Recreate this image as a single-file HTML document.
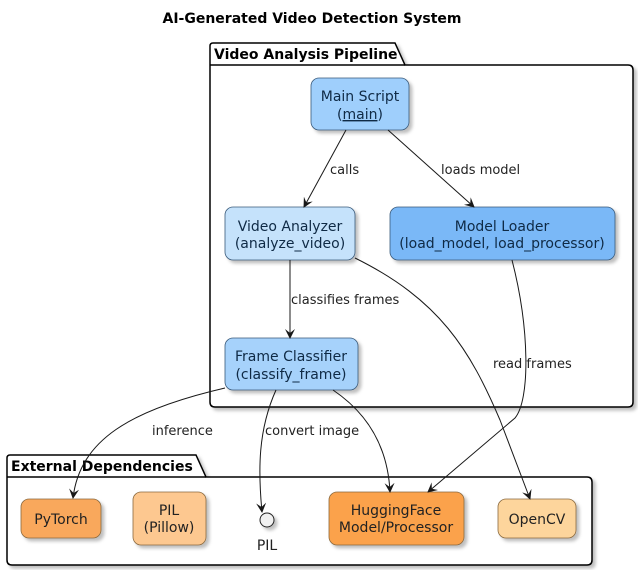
<!DOCTYPE html>
<html><head><meta charset="utf-8"><style>
html,body{margin:0;padding:0;background:#fff;}
svg{display:block;font-family:"DejaVu Sans","Liberation Sans",sans-serif;}
</style></head><body>
<svg width="638" height="570" viewBox="0 0 638 570" xmlns="http://www.w3.org/2000/svg">
<defs>
<marker id="a" viewBox="0 0 10 10" refX="9" refY="5" markerWidth="10" markerHeight="10" orient="auto" markerUnits="userSpaceOnUse">
<path d="M0,0 L10,5 L0,10 L4,5 Z" fill="#181818"/></marker>
<filter id="s" x="-10%" y="-10%" width="130%" height="140%"><feDropShadow dx="3" dy="3" stdDeviation="1.5" flood-color="#000" flood-opacity="0.25"/></filter>
</defs>
<text x="312" y="23" text-anchor="middle" font-size="14" font-weight="bold" fill="#000">AI-Generated Video Detection System</text>

<g filter="url(#s)">
<path d="M213,43 L395,43 L405,65 L628,65 Q633,65 633,70 L633,402 Q633,407 628,407 L215,407 Q210,407 210,402 L210,46 Q210,43 213,43 Z" fill="#fff" stroke="#000" stroke-width="1.5"/>
</g>
<line x1="210" y1="65" x2="405" y2="65" stroke="#000" stroke-width="1.5"/>
<text x="214" y="59" font-size="14" font-weight="bold">Video Analysis Pipeline</text>

<g filter="url(#s)">
<path d="M10,455 L196,455 L206,477 L587,477 Q592,477 592,482 L592,560 Q592,565 587,565 L12,565 Q7,565 7,560 L7,458 Q7,455 10,455 Z" fill="#fff" stroke="#000" stroke-width="1.5"/>
</g>
<line x1="7" y1="477" x2="206" y2="477" stroke="#000" stroke-width="1.5"/>
<text x="11" y="471" font-size="14" font-weight="bold">External Dependencies</text>

<g filter="url(#s)" stroke="#3a5a7a" stroke-width="0.8">
<rect x="311" y="78" width="98" height="52" rx="8" fill="#9fcffc"/>
<rect x="225" y="207" width="130" height="53" rx="8" fill="#c5e2fb"/>
<rect x="390" y="207" width="225" height="53" rx="8" fill="#7ab8f7"/>
<rect x="225" y="338" width="133" height="52" rx="8" fill="#a6d2fb"/>
</g>
<g filter="url(#s)" stroke="#8a6a40" stroke-width="0.8">
<rect x="21" y="499" width="80" height="39" rx="8" fill="#f9a85c"/>
<rect x="133" y="492" width="73" height="53" rx="8" fill="#fdc890"/>
<rect x="329" y="492" width="135" height="53" rx="8" fill="#fba24c"/>
<rect x="498" y="499" width="78" height="39" rx="8" fill="#fdd59c"/>
<circle cx="267" cy="520" r="7" fill="#f1f1f1" stroke="#222" stroke-width="1"/>
</g>

<g font-size="14" fill="#0f2a45" text-anchor="middle">
<text x="360" y="101">Main Script</text>
<text x="360" y="119">(<tspan text-decoration="underline">main</tspan>)</text>
<text x="290" y="231">Video Analyzer</text>
<text x="290" y="248">(analyze_video)</text>
<text x="502" y="231">Model Loader</text>
<text x="502" y="248">(load_model, load_processor)</text>
<text x="291" y="361">Frame Classifier</text>
<text x="291" y="379">(classify_frame)</text>
</g>
<g font-size="14" fill="#222" text-anchor="middle">
<text x="61" y="524">PyTorch</text>
<text x="169" y="515">PIL</text>
<text x="169" y="532">(Pillow)</text>
<text x="396" y="515">HuggingFace</text>
<text x="396" y="532">Model/Processor</text>
<text x="537" y="524">OpenCV</text>
<text x="267" y="550">PIL</text>
</g>

<g fill="none" stroke="#181818" stroke-width="1" marker-end="url(#a)">
<path d="M346,130 L304,207"/>
<path d="M388,130 L474,207"/>
<path d="M290,260 L290,338"/>
<path d="M355,258 C440,300 470,350 500,420 L530,499"/>
<path d="M512,260 C530,330 530,400 515,418 L428,492"/>
<path d="M333,390 C370,415 388,450 390,492"/>
<path d="M276,390 C258,430 258,470 262,512"/>
<path d="M225,388 C130,410 80,440 73,498"/>
</g>
<g font-size="13" fill="#222">
<text x="330" y="174">calls</text>
<text x="441" y="174">loads model</text>
<text x="291" y="304">classifies frames</text>
<text x="493" y="368">read frames</text>
<text x="152" y="435">inference</text>
<text x="265" y="435">convert image</text>
</g>
</svg>
</body></html>
